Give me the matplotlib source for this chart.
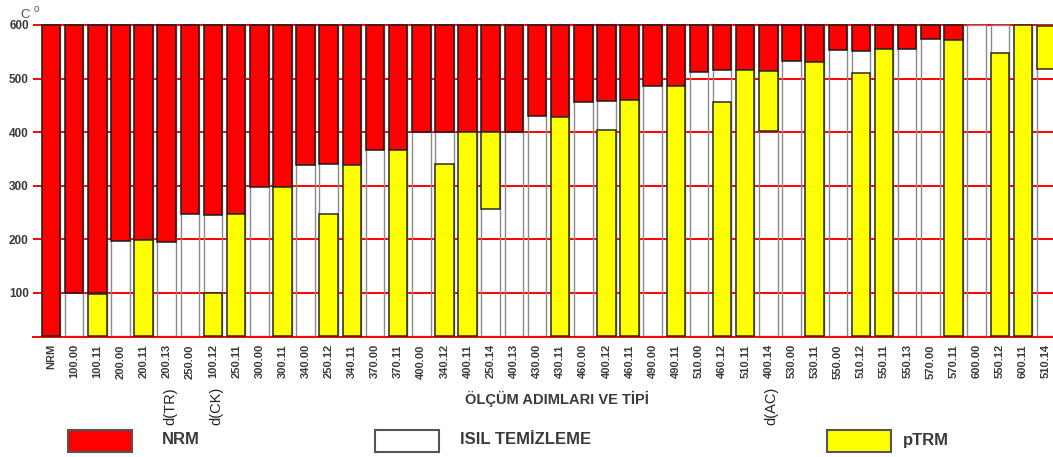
import matplotlib
import numpy as np

matplotlib.use("Agg")
import matplotlib.pyplot as plt
from matplotlib.patches import Rectangle
from matplotlib.transforms import blended_transform_factory

plt.rcParams["font.family"] = ["Liberation Sans", "DejaVu Sans"]

# measurement steps in the order they were run
STEPS = [
    "NRM", "100.00", "100.11", "200.00", "200.11", "200.13", "250.00", "100.12",
    "250.11", "300.00", "300.11", "340.00", "250.12", "340.11", "370.00", "370.11",
    "400.00", "340.12", "400.11", "250.14", "400.13", "430.00", "430.11", "460.00",
    "400.12", "460.11", "490.00", "490.11", "510.00", "460.12", "510.11", "400.14",
    "530.00", "530.11", "550.00", "510.12", "550.11", "550.13", "570.00", "570.11",
    "600.00", "550.12", "600.11", "510.14",
]

# remaining NRM: red from this temperature up to 600 (600 = nothing left)
NRM_FROM = [
    0, 99, 99, 197, 198, 195, 248, 245,
    248, 297, 298, 338, 340, 338, 366, 366,
    400, 400, 401, 401, 400, 431, 428, 457,
    459, 460, 487, 487, 513, 516, 516, 514,
    533, 530, 553, 551, 555, 555, 574, 572,
    600, 600, 600, 600,
]

# pTRM acquired: yellow from low to high (None = no pTRM step)
PTRM_LOW = [
    None, None, 0, None, 0, None, None, 0,
    0, None, 0, None, 0, 0, None, 0,
    None, 0, 0, 257, None, None, 0, None,
    0, 0, None, 0, None, 0, 0, 403,
    None, 0, None, 0, 0, None, None, 0,
    None, 0, 0, 517,
]
PTRM_HIGH = [
    None, None, 97, None, 198, None, None, 99,
    248, None, 298, None, 248, 338, None, 366,
    None, 341, 401, 401, None, None, 428, None,
    404, 460, None, 487, None, 456, 516, 514,
    None, 530, None, 511, 555, None, None, 572,
    None, 548, 600, 598,
]

CHECK_TAGS = {"200.13": "d(TR)", "100.12": "d(CK)", "400.14": "d(AC)"}

Y_BASE = 20
Y_TOP = 600
RED = "#ff0000"
YELLOW = "#ffff00"
TEXT = "#3a3a3a"

W, H = 1053, 457
fig = plt.figure(figsize=(W / 100, H / 100), dpi=100)
ax = fig.add_axes([33 / W, (H - 337.3) / H, 1 - 33 / W, 313.4 / H])

x = np.arange(len(STEPS))
bar_w = 0.8

# empty (thermally cleaned) columns, outlined in grey
ax.bar(x, Y_TOP - Y_BASE, bottom=Y_BASE, width=bar_w, facecolor="none",
       edgecolor="#8a8a8a", linewidth=1.0, zorder=2)

nrm_from = np.array(NRM_FROM, dtype=float)
has_red = nrm_from < Y_TOP
red_low = np.maximum(nrm_from[has_red], Y_BASE)
ax.bar(x[has_red], Y_TOP - red_low, bottom=red_low, width=bar_w, color=RED,
       edgecolor="#1a1a1a", linewidth=1.1, zorder=3)

has_y = np.array([v is not None for v in PTRM_HIGH])
y_low = np.array([max(PTRM_LOW[i], Y_BASE) for i in x[has_y]], dtype=float)
y_high = np.array([PTRM_HIGH[i] for i in x[has_y]], dtype=float)
ax.bar(x[has_y], y_high - y_low, bottom=y_low, width=bar_w, color=YELLOW,
       edgecolor="#2a2a1a", linewidth=1.1, zorder=3)

ax.set_xlim(-0.78, 43.3)
ax.set_ylim(17, 602)
ax.set_yticks(range(100, 700, 100))
ax.set_yticklabels([str(v) for v in range(100, 700, 100)], fontsize=8.5,
                   fontweight="bold", color=TEXT)
ax.tick_params(axis="y", length=0, pad=3)
ax.set_xticks(x)
ax.set_xticklabels(STEPS, rotation=90, fontsize=8, fontweight="bold", color=TEXT)
ax.tick_params(axis="x", length=0, pad=5)

ax.yaxis.grid(True, color=RED, linewidth=1.4)
ax.set_axisbelow(True)
for side in ["top", "right", "left"]:
    ax.spines[side].set_visible(False)
ax.spines["bottom"].set_color(RED)
ax.spines["bottom"].set_linewidth(1.4)

# check-step tags under their tick labels
tr = blended_transform_factory(ax.transData, fig.transFigure)
for name, tag in CHECK_TAGS.items():
    ax.text(STEPS.index(name) + 0.15, (H - 406) / H, tag, transform=tr,
            rotation=90, ha="center", va="center", fontsize=10.5, color="#222222")

# unit mark above the y axis
fig.text(20 / W, (H - 15) / H, "C", fontsize=9.5, color="#555555",
         ha="left", va="center")
fig.text(34 / W, (H - 9) / H, "o", fontsize=7, color="#555555",
         ha="left", va="center")

fig.text(557 / W, (H - 399) / H, "ÖLÇÜM ADIMLARI VE TİPİ", fontsize=10.5,
         fontweight="bold", color=TEXT, ha="center", va="center")

# legend boxes along the bottom
legend_items = [
    (68, RED, "NRM", 162),
    (375, "white", "ISIL TEMİZLEME", 460),
    (827, YELLOW, "pTRM", 903),
]
for x0, color, label, tx in legend_items:
    fig.add_artist(Rectangle((x0 / W, (H - 452) / H), 64 / W, 22 / H,
                             transform=fig.transFigure, facecolor=color,
                             edgecolor="#555555", linewidth=1.5))
    fig.text(tx / W, (H - 440) / H, label, fontsize=12, fontweight="bold",
             color=TEXT, ha="left", va="center")

fig.savefig("out.png", dpi=100)
